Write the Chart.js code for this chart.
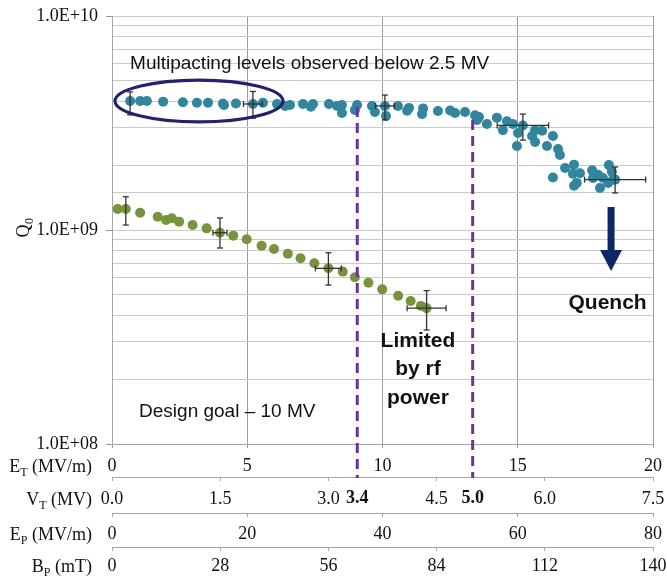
<!DOCTYPE html>
<html>
<head>
<meta charset="utf-8">
<script src="https://cdn.jsdelivr.net/npm/chart.js@4.4.1/dist/chart.umd.min.js"></script>
<style>html,body{margin:0;padding:0;background:#fff}</style>
</head>
<body>
<canvas id="c" width="667" height="578"></canvas>
<script>
// -------- Datos (Q0 vs E_T) --------
// serie azul: medida a 2 K (multipacting + quench)
const blueET = [0.67,1.04,1.29,1.89,2.62,3.14,3.55,4.10,4.14,4.58,5.21,5.58,6.10,6.40,6.58,7.06,7.43,7.35,8.02,8.32,
  8.50,8.50,9.06,8.98,9.61,9.72,10.09,10.13,10.57,10.91,10.98,11.50,11.46,12.05,12.50,12.68,13.05,13.42,13.57,13.49,
  13.86,14.23,14.60,14.45,14.82,15.19,15.01,14.97,15.53,15.64,15.64,15.90,16.08,16.30,16.49,16.56,16.75,17.08,16.30,17.04,
  17.30,17.18,17.08,17.75,17.78,17.97,18.04,18.15,18.37,18.34,18.48,18.52,18.60];
const blueQ = [4.01e9,4.01e9,4.01e9,3.98e9,3.95e9,3.93e9,3.93e9,3.90e9,3.84e9,3.90e9,3.88e9,3.93e9,3.88e9,3.80e9,3.84e9,3.88e9,3.88e9,3.77e9,3.88e9,3.80e9,
  3.84e9,3.52e9,3.84e9,3.64e9,3.80e9,3.56e9,3.80e9,3.41e9,3.80e9,3.61e9,3.72e9,3.70e9,3.48e9,3.60e9,3.62e9,3.52e9,3.56e9,3.44e9,3.37e9,3.27e9,
  3.13e9,3.35e9,3.22e9,2.93e9,3.13e9,3.08e9,2.84e9,2.47e9,2.75e9,2.93e9,2.58e9,2.91e9,2.47e9,2.75e9,2.39e9,2.24e9,1.95e9,2.02e9,1.76e9,1.83e9,
  1.84e9,1.66e9,1.61e9,1.90e9,1.75e9,1.81e9,1.57e9,1.75e9,2.01e9,1.66e9,1.87e9,1.72e9,1.72e9];
const blueErrET = [0.67, 5.21, 10.09, 15.19, 18.60];
const blueErrQ  = [4.01e9, 3.88e9, 3.80e9, 3.08e9, 1.72e9];
const blueErrLo = [3.45e9, 3.33e9, 3.27e9, 2.63e9, 1.49e9];
const blueErrHi = [4.42e9, 4.44e9, 4.27e9, 3.48e9, 1.97e9];
const blueErrDx = [0, 0.35, 0.35, 0.95, 1.13];

// serie verde
const greenET = [0.21,0.51,1.04,1.69,2.00,2.21,2.48,2.98,3.50,3.99,4.48,4.98,5.53,5.99,6.50,6.97,7.48,8.00,8.53,8.98,
  9.48,9.99,10.58,11.04,11.42,11.63];
const greenQ = [1.253e9,1.253e9,1.205e9,1.154e9,1.114e9,1.134e9,1.094e9,1.055e9,1.018e9,9.71e8,9.41e8,9.05e8,8.45e8,8.15e8,7.75e8,7.38e8,6.99e8,6.62e8,6.39e8,6.01e8,
  5.67e8,5.28e8,4.93e8,4.66e8,4.42e8,4.31e8];
const greenErrET = [0.51, 3.99, 8.00, 11.63];
const greenErrQ  = [1.253e9, 9.71e8, 6.62e8, 4.31e8];
const greenErrLo = [1.055e9, 8.24e8, 5.53e8, 3.41e8];
const greenErrHi = [1.43e9, 1.138e9, 7.83e8, 5.21e8];
const greenErrDx = [0, 0.26, 0.48, 0.72];

// -------- Ejes inferiores (ticks) --------
const etTicks = [0, 5, 10, 15, 20];
const vtTicks = [0, 1.5, 3.0, 4.5, 6.0, 7.5];
const vtLimits = [3.4, 5.0];          // límites por potencia rf (en negrita)
const limitQ = [3.76e9, 3.27e9];      // Q0 donde empieza cada línea punteada
const epTicks = [0, 20, 40, 60, 80];
const bpTicks = [0, 28, 56, 84, 112, 140];

// -------- Estilos --------
const SERIF = '"Liberation Serif", "Times New Roman", serif';
const SANS = '"Liberation Sans", Arial, sans-serif';
const BLUE = '#31859C', GREEN = '#77933C', PURPLE = '#7030A0', NAVY = '#0E2766', RING = '#22226E';

const isMajor = v => Math.abs(Math.log10(v) - Math.round(Math.log10(v))) < 1e-6;
const fmtExp = v => '1.0E+' + String(Math.round(Math.log10(v))).padStart(2, '0');
const isLimit = c => !!(c && c.tick && vtLimits.includes(c.tick.value));

// eje inferior apilado; alto fijo y sin relleno automático a los lados
const bottomAxis = (min, max, ticks, height, pad, weight, extra = {}) => ({
  type: 'linear', position: 'bottom', min, max, weight,
  afterBuildTicks: s => { s.ticks = ticks.map(v => ({ value: v })); },
  afterFit: s => { s.height = height; s.paddingLeft = 0; s.paddingRight = 0; },
  border: { color: '#a6a6a6' },
  grid: { drawOnChartArea: false, tickLength: 4, color: '#a6a6a6' },
  ticks: { font: { family: SERIF, size: 18 }, color: '#111', padding: pad, autoSkip: false, maxRotation: 0 },
  ...extra
});

// anotaciones (posición en unidades de datos: E_T, Q0)
const ellipseBox = { et0: 0.11, et1: 6.32, qTop: 5.02e9, qBot: 3.2e9 };
const quenchArrow = { et: 18.45, qTop: 1.28e9, qTip: 6.43e8 };
const notes = [
  { lines: ['Multipacting levels observed below 2.5 MV'], et: 0.67, q: 5.97e9, align: 'left', weight: '' },
  { lines: ['Design goal – 10 MV'], et: 1.0, q: 1.41e8, align: 'left', weight: '' },
  { lines: ['Limited', 'by rf', 'power'], et: 11.31, q: 3.03e8, align: 'center', weight: 'bold ' },
  { lines: ['Quench'], et: 18.32, q: 4.56e8, align: 'center', weight: 'bold ' },
];
const axisTitles = [
  { id: 'x',  main: 'E', sub: 'T', rest: ' (MV/m)' },
  { id: 'vt', main: 'V', sub: 'T', rest: ' (MV)' },
  { id: 'ep', main: 'E', sub: 'P', rest: ' (MV/m)' },
  { id: 'bp', main: 'B', sub: 'P', rest: ' (mT)' },
];

function seg(ctx, x1, y1, x2, y2) { ctx.beginPath(); ctx.moveTo(x1, y1); ctx.lineTo(x2, y2); ctx.stroke(); }

function errorBars(ctx, x, y, ets, qs, lo, hi, dx) {
  ctx.save();
  ctx.strokeStyle = '#333'; ctx.lineWidth = 1.3;
  ets.forEach((e, i) => {
    const px = x.getPixelForValue(e), py = y.getPixelForValue(qs[i]);
    const y1 = y.getPixelForValue(hi[i]), y2 = y.getPixelForValue(lo[i]);
    seg(ctx, px, y1, px, y2);
    seg(ctx, px - 3, y1, px + 3, y1);
    seg(ctx, px - 3, y2, px + 3, y2);
    if (dx[i]) {
      const x1 = x.getPixelForValue(e - dx[i]), x2 = x.getPixelForValue(e + dx[i]);
      seg(ctx, x1, py, x2, py);
      seg(ctx, x1, py - 3, x1, py + 3);
      seg(ctx, x2, py - 3, x2, py + 3);
    }
  });
  ctx.restore();
}

// titulo con subíndice (E_T, V_T ...)
function subTitle(ctx, t, xRight, base, size) {
  const big = `${size}px ${SERIF}`, small = `${Math.round(size * 0.66)}px ${SERIF}`;
  ctx.font = big; const w1 = ctx.measureText(t.main).width, w3 = ctx.measureText(t.rest).width;
  ctx.font = small; const w2 = ctx.measureText(t.sub).width;
  let xx = xRight - w1 - w2 - w3;
  ctx.textAlign = 'left'; ctx.textBaseline = 'alphabetic';
  ctx.font = big; ctx.fillText(t.main, xx, base); xx += w1;
  ctx.font = small; ctx.fillText(t.sub, xx, base + 4); xx += w2;
  ctx.font = big; ctx.fillText(t.rest, xx, base);
}

const overlay = {
  id: 'overlay',
  afterDatasetsDraw(chart) {
    const { ctx, scales: { x, y, vt } } = chart;

    // líneas punteadas: límite por potencia rf
    ctx.save();
    ctx.strokeStyle = PURPLE; ctx.lineWidth = 3; ctx.setLineDash([10, 6]);
    vtLimits.forEach((v, i) => {
      const px = vt.getPixelForValue(v);
      seg(ctx, px, y.getPixelForValue(limitQ[i]), px, vt.top + 1);
    });
    ctx.restore();

    errorBars(ctx, x, y, blueErrET, blueErrQ, blueErrLo, blueErrHi, blueErrDx);
    errorBars(ctx, x, y, greenErrET, greenErrQ, greenErrLo, greenErrHi, greenErrDx);

    // elipse alrededor de los niveles de multipacting
    const ex0 = x.getPixelForValue(ellipseBox.et0), ex1 = x.getPixelForValue(ellipseBox.et1);
    const ey0 = y.getPixelForValue(ellipseBox.qTop), ey1 = y.getPixelForValue(ellipseBox.qBot);
    ctx.save();
    ctx.strokeStyle = RING; ctx.lineWidth = 3.2;
    ctx.beginPath();
    ctx.ellipse((ex0 + ex1) / 2, (ey0 + ey1) / 2, (ex1 - ex0) / 2, (ey1 - ey0) / 2, 0, 0, Math.PI * 2);
    ctx.stroke();
    ctx.restore();

    // flecha de quench
    const ax = x.getPixelForValue(quenchArrow.et);
    const ay0 = y.getPixelForValue(quenchArrow.qTop), ay1 = y.getPixelForValue(quenchArrow.qTip);
    const headLen = 21, shaftW = 7, headW = 22;
    ctx.save();
    ctx.fillStyle = NAVY;
    ctx.beginPath();
    ctx.moveTo(ax - shaftW / 2, ay0); ctx.lineTo(ax + shaftW / 2, ay0);
    ctx.lineTo(ax + shaftW / 2, ay1 - headLen); ctx.lineTo(ax + headW / 2, ay1 - headLen);
    ctx.lineTo(ax, ay1); ctx.lineTo(ax - headW / 2, ay1 - headLen);
    ctx.lineTo(ax - shaftW / 2, ay1 - headLen); ctx.closePath();
    ctx.fill();
    ctx.restore();

    // textos
    ctx.save();
    ctx.fillStyle = '#111'; ctx.textBaseline = 'middle';
    notes.forEach(n => {
      ctx.font = n.weight ? `bold 21px ${SANS}` : `19px ${SANS}`;
      ctx.textAlign = n.align;
      const px = x.getPixelForValue(n.et), py = y.getPixelForValue(n.q);
      n.lines.forEach((l, k) => ctx.fillText(l, px, py + k * 28.5));
    });
    ctx.restore();
  },
  afterDraw(chart) {
    const { ctx, scales, chartArea } = chart;
    ctx.save();
    ctx.fillStyle = '#111';
    axisTitles.forEach(t => {
      const s = scales[t.id];
      const mid = s.top + s.options.grid.tickLength + s.options.ticks.padding + 10.8;
      subTitle(ctx, t, chartArea.left - 20, mid + 6, 18);
    });
    // Q0 (eje y), rotado
    const ymid = scales.y.getPixelForValue(1e9);
    ctx.translate(29, ymid - 2);
    ctx.rotate(-Math.PI / 2);
    ctx.textAlign = 'center'; ctx.textBaseline = 'alphabetic';
    ctx.font = `18px ${SERIF}`;
    ctx.fillText('Q', -3, 0);
    ctx.font = `12px ${SERIF}`;
    ctx.fillText('0', 7, 4);
    ctx.restore();
  }
};

new Chart(document.getElementById('c'), {
  type: 'scatter',
  data: {
    datasets: [
      { label: 'blue', data: blueET.map((v, i) => ({ x: v, y: blueQ[i] })),
        backgroundColor: BLUE, borderColor: BLUE, pointRadius: 5, pointBorderWidth: 0 },
      { label: 'green', data: greenET.map((v, i) => ({ x: v, y: greenQ[i] })),
        backgroundColor: GREEN, borderColor: GREEN, pointRadius: 5, pointBorderWidth: 0 },
    ]
  },
  options: {
    responsive: false, animation: false,
    layout: { padding: { left: 0, right: 14, top: 16, bottom: 0 } },
    plugins: { legend: { display: false }, tooltip: { enabled: false } },
    scales: {
      x: bottomAxis(0, 20, etTicks, 33, 7, 0, {
        grid: { drawOnChartArea: true, tickLength: 4, color: '#9c9c9c' }
      }),
      vt: bottomAxis(0, 7.5, vtTicks.concat(vtLimits).sort((a, b) => a - b), 36, 7, 1, {
        grid: { drawOnChartArea: false, tickLength: 4, color: '#a6a6a6',
                tickColor: c => isLimit(c) ? 'rgba(0,0,0,0)' : '#a6a6a6' },
        ticks: { font: c => ({ family: SERIF, size: 18, weight: isLimit(c) ? 'bold' : 'normal' }),
                 color: '#111', padding: 7, autoSkip: false, maxRotation: 0, callback: v => v.toFixed(1) }
      }),
      ep: bottomAxis(0, 80, epTicks, 34, 6, 2),
      bp: bottomAxis(0, 140, bpTicks, 31, 4, 3),
      y: {
        type: 'logarithmic', min: 1e8, max: 1e10,
        afterFit: s => { s.width = 112; s.paddingTop = 0; s.paddingBottom = 0; },
        border: { color: '#a6a6a6' },
        grid: { color: '#cacaca', tickLength: 6,
                tickColor: c => (c && c.tick && isMajor(c.tick.value)) ? '#999' : 'rgba(0,0,0,0)' },
        ticks: { autoSkip: false, font: { family: SERIF, size: 18 }, color: '#111', padding: 8,
                 callback: v => isMajor(v) ? fmtExp(v) : '' }
      }
    }
  },
  plugins: [overlay]
});
</script>
</body>
</html>
